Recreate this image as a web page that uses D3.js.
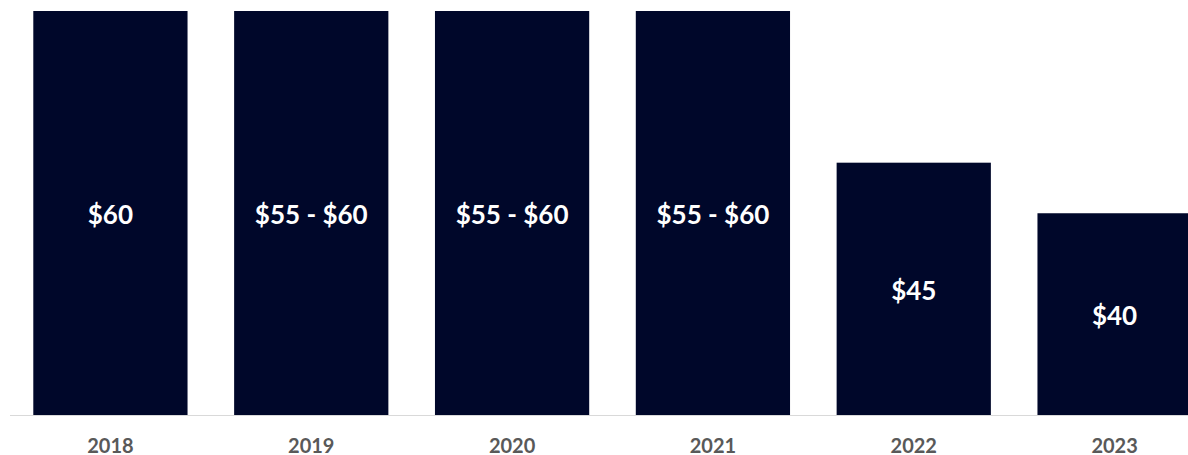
<!DOCTYPE html>
<html>
<head>
<meta charset="utf-8">
<script src="https://cdn.jsdelivr.net/npm/d3@7"></script>
<style>
  html, body { margin: 0; padding: 0; background: #fff; overflow: hidden; }
  svg { display: block; }
</style>
</head>
<body>
<svg id="chart" width="1188" height="455"></svg>
<script>
// Price per year (bar height) and the price text shown on each bar
const years = ["2018", "2019", "2020", "2021", "2022", "2023"];
const prices = [60, 60, 60, 60, 45, 40];
const priceLabels = ["$60", "$55 - $60", "$55 - $60", "$55 - $60", "$45", "$40"];
const axisMin = 20;

const svg = d3.select("#chart");
const W = 1188, H = 455;
const baseY = 415.5, topY = 11;

const x = d3.scaleBand()
  .domain(years)
  .range([10, 1215])
  .paddingInner(0.232)
  .paddingOuter(0.116);

const y = d3.scaleLinear()
  .domain([axisMin, 60])
  .range([baseY, topY]);

const data = years.map((yr, i) => ({ year: yr, value: prices[i], label: priceLabels[i] }));

// Bars
svg.append("g").selectAll("rect")
  .data(data)
  .join("rect")
  .attr("x", d => x(d.year))
  .attr("y", d => y(d.value))
  .attr("width", x.bandwidth())
  .attr("height", d => y(axisMin) - y(d.value))
  .attr("fill", "#00072a");

// Value labels centred in each bar
svg.append("g").selectAll("text")
  .data(data)
  .join("text")
  .attr("x", d => x(d.year) + x.bandwidth() / 2)
  .attr("y", d => (y(d.value) + y(axisMin)) / 2 + 1)
  .attr("text-anchor", "middle")
  .attr("dominant-baseline", "central")
  .attr("fill", "#ffffff")
  .style("font-family", "Lato, 'Open Sans', sans-serif")
  .style("font-weight", "700")
  .style("font-size", "26px")
  .text(d => d.label);

// Category axis
const xAxis = d3.axisBottom(x).tickSize(0).tickPadding(0);
const gx = svg.append("g")
  .attr("transform", `translate(0,${baseY})`)
  .call(xAxis);
gx.select(".domain").remove();
gx.append("line")
  .attr("x1", 10).attr("x2", W)
  .attr("y1", 0).attr("y2", 0)
  .attr("stroke", "#d9d9d9")
  .attr("stroke-width", 1);
gx.selectAll(".tick text")
  .attr("y", 30)
  .attr("dy", "0.35em")
  .attr("fill", "#595959")
  .style("font-family", "Lato, 'Open Sans', sans-serif")
  .style("font-weight", "700")
  .style("font-size", "20px");
</script>
</body>
</html>
